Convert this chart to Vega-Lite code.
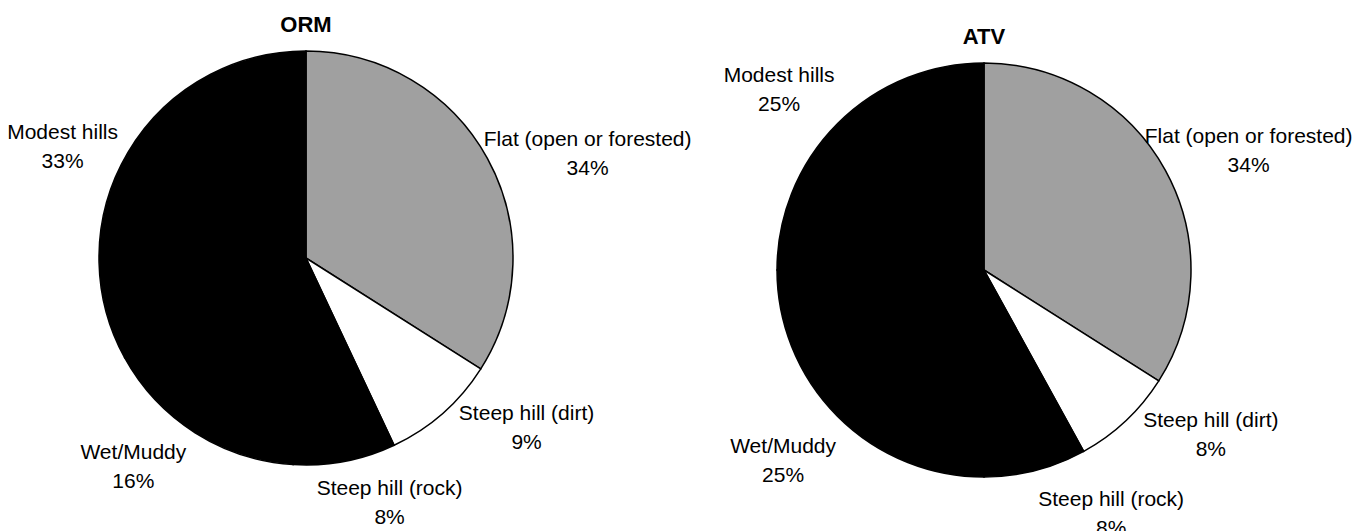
{
  "$schema": "https://vega.github.io/schema/vega-lite/v6.json",
  "padding": 0,
  "bounds": "flush",
  "spacing": 0,
  "background": "white",
  "config": {
    "view": {"stroke": null},
    "font": "Liberation Sans",
    "title": {"font": "Liberation Sans", "fontSize": 22, "fontWeight": "bold", "color": "black", "anchor": "middle"}
  },
  "datasets": {
    "orm": [
      {"terrain": "Flat (open or forested)", "pct": 34, "seq": 1},
      {"terrain": "Steep hill (dirt)", "pct": 9, "seq": 2},
      {"terrain": "Steep hill (rock)", "pct": 8, "seq": 3},
      {"terrain": "Wet/Muddy", "pct": 16, "seq": 4},
      {"terrain": "Modest hills", "pct": 33, "seq": 5}
    ],
    "atv": [
      {"terrain": "Flat (open or forested)", "pct": 34, "seq": 1},
      {"terrain": "Steep hill (dirt)", "pct": 8, "seq": 2},
      {"terrain": "Steep hill (rock)", "pct": 8, "seq": 3},
      {"terrain": "Wet/Muddy", "pct": 25, "seq": 4},
      {"terrain": "Modest hills", "pct": 25, "seq": 5}
    ]
  },
  "hconcat": [
    {
      "width": 612,
      "height": 516,
      "title": {"text": "ORM", "offset": -37},
      "data": {"name": "orm"},
      "transform": [{"calculate": "datum.terrain + '\\n' + datum.pct + '%'", "as": "label"}],
      "encoding": {
        "theta": {"field": "pct", "type": "quantitative", "stack": true},
        "order": {"field": "seq", "type": "quantitative"}
      },
      "layer": [
        {
          "mark": {"type": "arc", "outerRadius": 207, "stroke": "black", "strokeWidth": 1.5},
          "encoding": {
            "color": {
              "field": "terrain", "type": "nominal", "legend": null,
              "scale": {
                "domain": ["Flat (open or forested)", "Steep hill (dirt)", "Steep hill (rock)", "Wet/Muddy", "Modest hills"],
                "range": ["#a0a0a0", "white", "black", "black", "black"]
              }
            }
          }
        },
        {
          "mark": {
            "type": "text", "radius": 270, "fontSize": 21, "lineHeight": 29, "lineBreak": "\n",
            "align": "center", "baseline": "middle", "color": "black",
            "dx": {"expr": "[45, 42, 33, -28, -11][datum.seq - 1]"},
            "dy": {"expr": "[12, -47, -34, -33, 12][datum.seq - 1]"}
          },
          "encoding": {"text": {"field": "label", "type": "nominal"}}
        }
      ]
    },
    {
      "width": 744,
      "height": 540,
      "title": {"text": "ATV", "offset": -49},
      "data": {"name": "atv"},
      "transform": [{"calculate": "datum.terrain + '\\n' + datum.pct + '%'", "as": "label"}],
      "encoding": {
        "theta": {"field": "pct", "type": "quantitative", "stack": true},
        "order": {"field": "seq", "type": "quantitative"}
      },
      "layer": [
        {
          "mark": {"type": "arc", "outerRadius": 207, "stroke": "black", "strokeWidth": 1.5},
          "encoding": {
            "color": {
              "field": "terrain", "type": "nominal", "legend": null,
              "scale": {
                "domain": ["Flat (open or forested)", "Steep hill (dirt)", "Steep hill (rock)", "Wet/Muddy", "Modest hills"],
                "range": ["#5a5a5a", "white", "black", "black", "black"]
              }
            }
          }
        },
        {
          "mark": {
            "type": "text", "radius": 270, "fontSize": 21, "lineHeight": 29, "lineBreak": "\n",
            "align": "center", "baseline": "middle", "color": "black",
            "dx": {"expr": "[28, 42, 60, -10, -14][datum.seq - 1]"},
            "dy": {"expr": "[-3, -46, -32, -14, -3][datum.seq - 1]"}
          },
          "encoding": {"text": {"field": "label", "type": "nominal"}}
        }
      ]
    }
  ]
}
